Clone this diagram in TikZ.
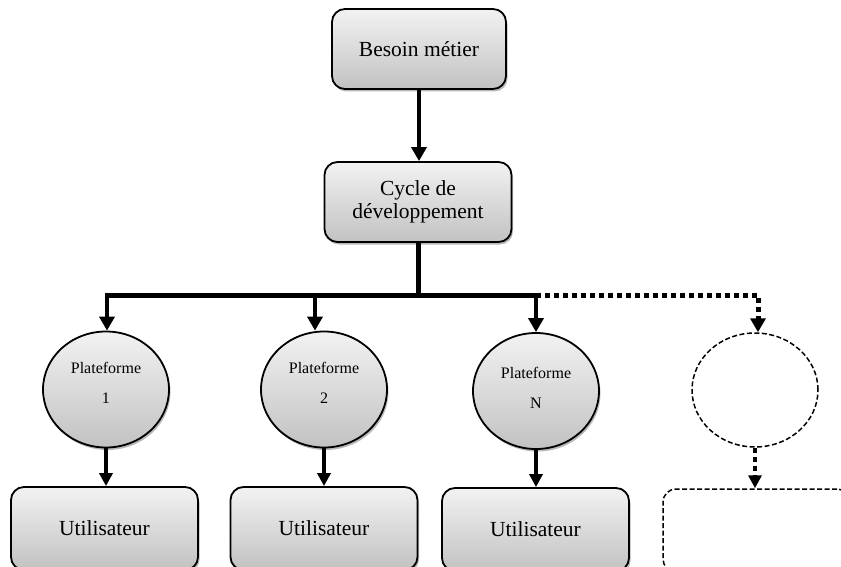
\documentclass[tikz,border=0pt]{standalone}
\usepackage{fontspec}
\setmainfont{Liberation Serif}
\usetikzlibrary{arrows.meta,shapes.geometric,shadows}
\begin{document}
\begin{tikzpicture}[x=1pt,y=-1pt,
  soft shadow/.style={drop shadow={shadow xshift=1.5pt,shadow yshift=-2.5pt,opacity=0.28,fill=black}},
  stepbox/.style={draw=black, line width=1.8pt, rounded corners=13pt,
    top color=black!5, bottom color=black!24, soft shadow,
    font=\fontsize{21.5}{23.5}\selectfont, align=center, inner sep=0pt,
    minimum height=80pt},
  userbox/.style={stepbox, minimum width=187pt, minimum height=83pt},
  ghostbox/.style={draw=black, line width=1.5pt, rounded corners=13pt,
    dash pattern=on 5pt off 2.5pt, minimum width=187pt, minimum height=83pt},
  platform/.style={ellipse, draw=black, line width=1.8pt,
    top color=black!5, bottom color=black!24, soft shadow,
    minimum width=126pt, minimum height=116pt, inner sep=0pt},
  ghostplatform/.style={ellipse, draw=black, line width=1.5pt,
    dash pattern=on 5pt off 2.5pt,
    minimum width=126pt, minimum height=114pt, inner sep=0pt},
  platlabel/.style={font=\fontsize{16}{30}\selectfont, align=center, inner sep=0pt},
  flow/.style={line width=4.5pt, -{Triangle[width=15pt,length=14pt]}},
  trunk/.style={line width=5pt},
  drop/.style={line width=4pt, -{Triangle[width=15pt,length=14pt]}},
  feed/.style={line width=3.5pt, -{Triangle[width=13pt,length=13pt]}},
  dotted trunk/.style={line width=5pt, dash pattern=on 5pt off 4pt},
  dotted drop/.style={line width=5pt, dash pattern=on 5pt off 4pt,
    -{Triangle[width=15pt,length=14pt]}},
  dotted feed/.style={line width=4pt, dash pattern=on 5pt off 4pt,
    -{Triangle[width=13pt,length=13pt]}},
]
\clip (0,0) rectangle (841,567);
\useasboundingbox (0,0) rectangle (841,567);

% top of the chain
\node[stepbox, minimum width=174pt] (besoin) at (419,49) {Besoin métier};
\node[stepbox, minimum width=187pt] (cycle) at (418,202) {Cycle de\\développement};
\draw[flow] (besoin.south) -- (besoin.south |- cycle.north);

% platforms
\node[platform] (p1) at (106,389.5) {};
\node[platform] (p2) at (324,389.5) {};
\node[platform] (pN) at (536,391) {};
\node[ghostplatform] (pd) at (755,390) {};

\node[platlabel] (p1t) at (106,383) {Plateforme\\1};
\node[platlabel] (p2t) at (324,383) {Plateforme\\2};
\node[platlabel] (pNt) at (536,388) {Plateforme\\N};

% users
\node[userbox] (u1) at (104.5,528.5) {Utilisateur};
\node[userbox] (u2) at (324,528.5) {Utilisateur};
\node[userbox] (u3) at (535.5,529.5) {Utilisateur};
\node[ghostbox] (ud) at (756.5,530.5) {};

% distribution bus
\coordinate (j)  at (418,295);
\coordinate (b1) at (107,295);
\coordinate (b2) at (315,295);
\coordinate (b3) at (536,295);
\coordinate (b4) at (758,295);

\draw[trunk] (cycle.south) -- (j);
\draw[trunk, line cap=rect] (b1) -- (b3);
\draw[drop] (b1) -- (b1 |- p1.north);
\draw[drop] (b2) -- (b2 |- p2.north);
\draw[drop] (b3) -- (b3 |- pN.north);
\draw[dotted drop] (b3) -- (b4) -- (b4 |- pd.north);

% platforms to users
\draw[feed] (p1.south) -- (p1.south |- u1.north);
\draw[feed] (p2.south) -- (p2.south |- u2.north);
\draw[feed] (pN.south) -- (pN.south |- u3.north);
\draw[dotted feed] (pd.south) -- (pd.south |- ud.north);
\end{tikzpicture}
\end{document}
